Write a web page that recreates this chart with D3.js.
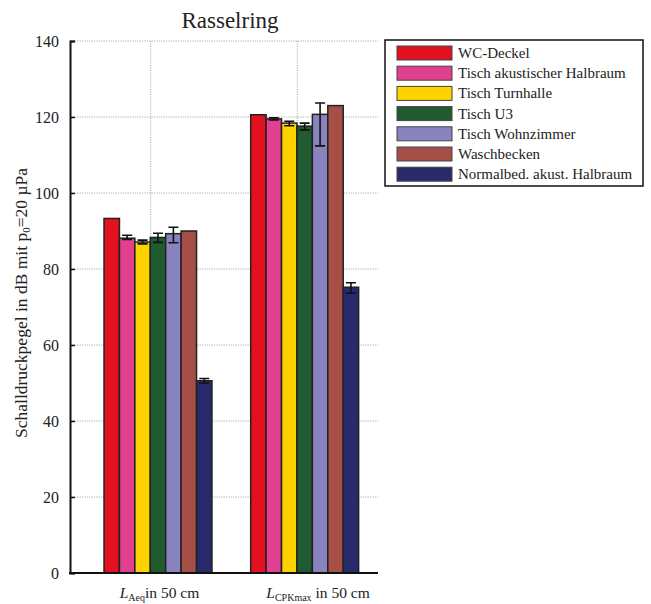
<!DOCTYPE html>
<html>
<head>
<meta charset="utf-8">
<title>Rasselring</title>
<script src="https://d3js.org/d3.v7.min.js"></script>
<style>
    body { margin: 0; background: #fff; }
    text { font-family: "Liberation Serif", "DejaVu Serif", serif; fill: #222; }
    .grid line { stroke: #aaa; stroke-dasharray: 1.2, 1.2; stroke-width: 1; }
    .bar { stroke: #222; stroke-width: 1.5; }
    .err { stroke: #111; stroke-width: 1.6; fill: none; }
</style>
</head>
<body>
<div id="chart"></div>
<script>
const categories = ['Aeq', 'CPKmax'];
const series = ['WC-Deckel', 'Tisch akustischer Halbraum', 'Tisch Turnhalle', 'Tisch U3',
    'Tisch Wohnzimmer', 'Waschbecken', 'Normalbed. akust. Halbraum'];
const colors = ['#e3101f', '#e0408f', '#ffd300', '#1f5b2e', '#8983c0', '#a64f47', '#282a6b'];
// bar heights per series: [L_Aeq, L_CPKmax]
const values = [
    [93.3, 120.6],
    [88.1, 119.5],
    [87.1, 118.4],
    [88.3, 117.6],
    [89.3, 120.7],
    [90.0, 123.0],
    [50.6, 75.2]
];
// error bar bounds [low, high] per series and category (null = none)
const errLow = [
    [null, null],
    [87.8, 119.2],
    [86.6, 117.7],
    [87.0, 116.6],
    [86.9, 112.4],
    [null, null],
    [50.0, 73.6]
];
const errHigh = [
    [null, null],
    [88.9, 119.8],
    [87.6, 118.9],
    [89.4, 118.4],
    [91.0, 123.7],
    [null, null],
    [51.2, 76.4]
];
const yTicks = [0, 20, 40, 60, 80, 100, 120, 140];

const W = 651, H = 604;
const mLeft = 70, mRight = 378, mTop = 41, mBottom = 573;

const svg = d3.select('#chart').append('svg').attr('width', W).attr('height', H);

const x = d3.scaleLinear().domain([0.45, 2.55]).range([mLeft, mRight]);
const y = d3.scaleLinear().domain([0, 140]).range([mBottom, mTop]);

// grid
const grid = svg.append('g').attr('class', 'grid');
grid.selectAll('.hg').data(yTicks).enter().append('line')
    .attr('x1', mLeft).attr('x2', mRight)
    .attr('y1', d => y(d)).attr('y2', d => y(d));
grid.selectAll('.vg').data([1, 2]).enter().append('line')
    .attr('x1', d => x(d)).attr('x2', d => x(d))
    .attr('y1', mTop).attr('y2', mBottom);

// bars
const groupShift = 0.05, groupWidth = 0.736;
const inner = d3.scaleBand().domain(d3.range(series.length)).range([0, groupWidth]).padding(0);
const bw = x(inner.bandwidth()) - x(0);

series.forEach((s, si) => {
    categories.forEach((c, ci) => {
        const x0 = x(ci + 1 + groupShift - groupWidth / 2 + inner(si));
        svg.append('rect').attr('class', 'bar')
            .attr('x', x0).attr('width', bw)
            .attr('y', y(values[si][ci])).attr('height', y(0) - y(values[si][ci]))
            .attr('fill', colors[si]);
        if (errLow[si][ci] !== null) {
            const cx = x0 + bw / 2, cap = 5;
            const lo = y(errLow[si][ci]), hi = y(errHigh[si][ci]);
            svg.append('path').attr('class', 'err')
                .attr('d', `M${cx},${lo}V${hi}M${cx - cap},${lo}H${cx + cap}M${cx - cap},${hi}H${cx + cap}`);
        }
    });
});

// axes
const yAxis = svg.append('g').attr('transform', `translate(${mLeft},0)`)
    .call(d3.axisLeft(y).tickValues(yTicks).tickSize(-5).tickPadding(11));
yAxis.select('.domain').attr('stroke', '#111').attr('stroke-width', 2);
yAxis.selectAll('.tick line').attr('stroke', '#111').attr('stroke-width', 1.5);
yAxis.selectAll('.tick text').style('font-size', '16px').attr('fill', '#333');

svg.append('line').attr('x1', mLeft - 1).attr('x2', mRight)
    .attr('y1', y(0)).attr('y2', y(0))
    .attr('stroke', '#111').attr('stroke-width', 2);

// category labels
categories.forEach((c, ci) => {
    const t = svg.append('text')
        .attr('x', x(ci + 1) - 31).attr('y', 598)
        .style('font-size', '15.5px');
    t.append('tspan').text('L').style('font-style', 'italic');
    t.append('tspan').text(c).attr('dy', 3).style('font-size', '10px');
    t.append('tspan').text(ci === 0 ? 'in 50 cm' : ' in 50 cm').attr('dy', -3);
});

// title
svg.append('text').attr('x', 230).attr('y', 28)
    .attr('text-anchor', 'middle').style('font-size', '23px').text('Rasselring');

// y label
const yl = svg.append('text')
    .attr('transform', `translate(27,${(mTop + mBottom) / 2 - 4}) rotate(-90)`)
    .attr('text-anchor', 'middle').style('font-size', '17.5px');
yl.append('tspan').text('Schalldruckpegel in dB mit p');
yl.append('tspan').text('0').attr('dy', 3).style('font-size', '11px');
yl.append('tspan').text('=20 µPa').attr('dy', -3);

// legend
const lg = svg.append('g').attr('transform', 'translate(385,40)');
lg.append('rect').attr('width', 258).attr('height', 146)
    .attr('fill', '#fff').attr('stroke', '#111').attr('stroke-width', 1.5);
const rowH = 20.2;
series.forEach((s, si) => {
    const r = lg.append('g').attr('transform', `translate(0,${13 + si * rowH})`);
    r.append('rect').attr('x', 12).attr('y', -7).attr('width', 55).attr('height', 14)
        .attr('fill', colors[si]).attr('stroke', '#444').attr('stroke-width', 1);
    r.append('text').attr('x', 73).attr('y', 5).style('font-size', '15px').text(s);
});
</script>
</body>
</html>
